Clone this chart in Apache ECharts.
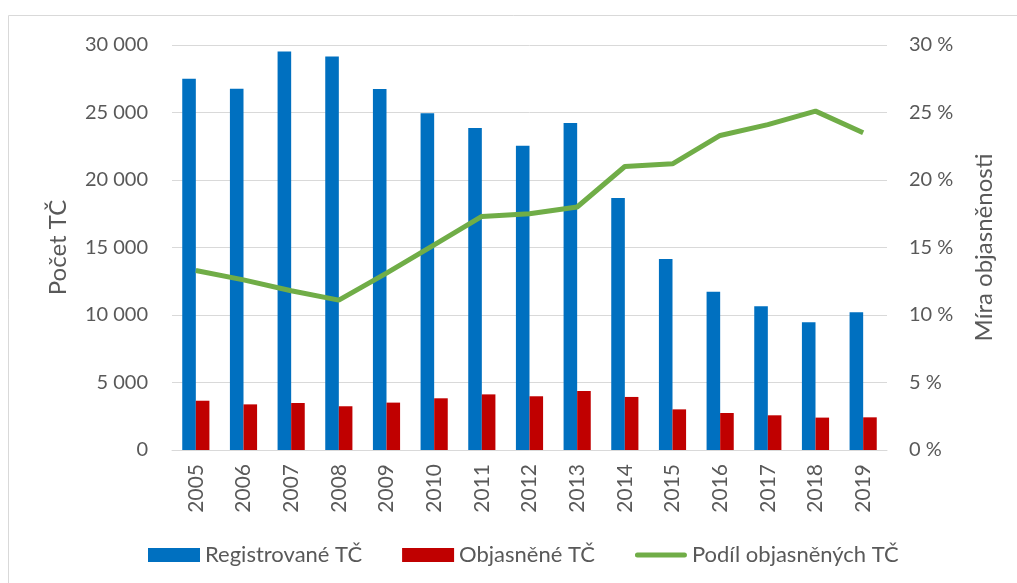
<!DOCTYPE html>
<html>
<head>
<meta charset="utf-8">
<script src="https://cdn.jsdelivr.net/npm/echarts@6/dist/echarts.min.js"></script>
<style>
  html, body { margin: 0; padding: 0; background: #fff; }
  #chart { width: 1017px; height: 583px; }
</style>
</head>
<body>
<div id="chart"></div>
<script>
// data
const years = ["2005", "2006", "2007", "2008", "2009", "2010", "2011", "2012",
  "2013", "2014", "2015", "2016", "2017", "2018", "2019"];
const registrovane = [27500, 26760, 29510, 29140, 26740, 24940, 23850, 22540,
  24220, 18670, 14150, 11730, 10640, 9460, 10200];
const objasnene = [3650, 3380, 3480, 3240, 3510, 3830, 4120, 3980,
  4370, 3930, 3010, 2740, 2570, 2400, 2420];
const podil = [13.3, 12.6, 11.8, 11.1, 13.1, 15.2, 17.3, 17.5,
  18.0, 21.0, 21.2, 23.3, 24.1, 25.1, 23.5];

const font = "Lato, 'Open Sans', sans-serif";
const textColor = "#595959";

// legend icon for the line: thin bar centred in a 52x14 box
const lineIcon = "path://M0,0h52v0.01h-52z M2.5,4.5h47a2.5,2.5 0 0 1 0,5h-47a2.5,2.5 0 0 1 0,-5z M0,13.99h52v0.01h-52z";

const chart = echarts.init(document.getElementById("chart"));

chart.setOption({
  animation: false,
  textStyle: { fontFamily: font },
  graphic: [
    {
      type: "rect",
      shape: { x: 8.5, y: 15.5, width: 1030, height: 600 },
      style: { fill: "none", stroke: "#d9d9d9", lineWidth: 1 },
      silent: true,
    },
  ],
  grid: { left: 172, right: 130, top: 45, bottom: 133 },
  legend: {
    left: 143,
    top: 539,
    itemWidth: 52,
    itemHeight: 14,
    itemGap: 40,
    textStyle: { fontFamily: font, fontSize: 22, color: textColor },
    data: [
      { name: "Registrované TČ", icon: "rect" },
      { name: "Objasněné TČ", icon: "rect" },
      { name: "Podíl objasněných TČ", icon: lineIcon },
    ],
  },
  xAxis: {
    type: "category",
    data: years,
    axisLine: { lineStyle: { color: "#d9d9d9", width: 1 } },
    axisTick: { show: false },
    axisLabel: {
      rotate: 90,
      margin: 14,
      fontSize: 21,
      color: textColor,
      fontFamily: font,
    },
  },
  yAxis: [
    {
      type: "value",
      min: 0,
      max: 30000,
      interval: 5000,
      name: "Počet TČ",
      nameLocation: "middle",
      nameRotate: 90,
      nameGap: 102,
      nameTextStyle: { fontSize: 24, color: textColor, fontFamily: font },
      axisLine: { show: false },
      axisTick: { show: false },
      splitLine: { lineStyle: { color: "#d9d9d9", width: 1 } },
      axisLabel: {
        margin: 24,
        fontSize: 20,
        color: textColor,
        fontFamily: font,
        formatter: (v) => String(v).replace(/\B(?=(\d{3})+(?!\d))/g, " "),
      },
    },
    {
      type: "value",
      min: 0,
      max: 30,
      interval: 5,
      name: "Míra objasněnosti",
      nameLocation: "middle",
      nameRotate: 90,
      nameGap: 85,
      nameTextStyle: { fontSize: 24, color: textColor, fontFamily: font },
      axisLine: { show: false },
      axisTick: { show: false },
      splitLine: { show: false },
      axisLabel: {
        margin: 22,
        fontSize: 20,
        color: textColor,
        fontFamily: font,
        formatter: (v) => v + " %",
      },
    },
  ],
  series: [
    {
      name: "Registrované TČ",
      type: "bar",
      data: registrovane,
      barGap: "0%",
      barCategoryGap: "43%",
      itemStyle: { color: "#0070C0" },
    },
    {
      name: "Objasněné TČ",
      type: "bar",
      data: objasnene,
      itemStyle: { color: "#C00000" },
    },
    {
      name: "Podíl objasněných TČ",
      type: "line",
      yAxisIndex: 1,
      data: podil,
      symbol: "none",
      lineStyle: { color: "#70AD47", width: 5 },
      itemStyle: { color: "#70AD47" },
    },
  ],
});
</script>
</body>
</html>
